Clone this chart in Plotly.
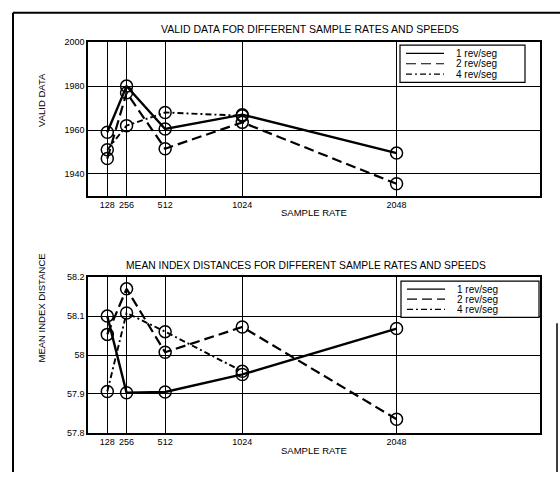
import plotly.graph_objects as go

# ---- data ----
sample_rates = [128, 256, 512, 1024, 2048]
tick_labels = ["128", "256", "512", "1024", "2048"]
series_names = ["1 rev/seg", "2 rev/seg", "4 rev/seg"]

valid_1rev = [1959, 1980, 1960.5, 1967, 1949.5]
valid_2rev = [1947, 1977, 1951.5, 1963.5, 1935.5]
valid_4rev = [1951, 1962, 1968, 1966.5]

mid_1rev = [58.10, 57.903, 57.905, 57.95, 58.068]
mid_2rev = [58.053, 58.17, 58.007, 58.072, 57.835]
mid_4rev = [57.906, 58.108, 58.06, 57.958]

valid_yticks = [1940, 1960, 1980, 2000]
mid_yticks = [57.8, 57.9, 58.0, 58.1, 58.2]
mid_yticklabels = ["57.8", "57.9", "58", "58.1", "58.2"]

W, H = 560, 477
FONT = "Liberation Sans, Arial, sans-serif"
dashes = ["solid", "10px,5px", "6px,3px,2px,3px"]
widths = [2.4, 2.2, 1.9]

def px_x(p):
    return p / W

def px_y(p):
    return 1 - p / H

fig = go.Figure()

top_sets = [valid_1rev, valid_2rev, valid_4rev]
bot_sets = [mid_1rev, mid_2rev, mid_4rev]

for i, ys in enumerate(top_sets):
    fig.add_trace(go.Scatter(
        x=sample_rates[:len(ys)], y=ys, mode="lines+markers",
        name=series_names[i], showlegend=False,
        line=dict(color="black", width=widths[i], dash=dashes[i]),
        marker=dict(symbol="circle-open", size=12, color="black", line=dict(width=1.5)),
        xaxis="x", yaxis="y"))
for i, ys in enumerate(bot_sets):
    fig.add_trace(go.Scatter(
        x=sample_rates[:len(ys)], y=ys, mode="lines+markers",
        name=series_names[i], showlegend=False,
        line=dict(color="black", width=widths[i], dash=dashes[i]),
        marker=dict(symbol="circle-open", size=12, color="black", line=dict(width=1.5)),
        xaxis="x2", yaxis="y2"))

axis_common = dict(showline=True, linecolor="black", linewidth=1.5, mirror=True,
                   showgrid=True, gridcolor="black", gridwidth=1.2, zeroline=False,
                   ticks="", tickfont=dict(family=FONT, size=9, color="black"))

xdom = [px_x(88), px_x(540)]
fig.update_layout(
    width=W, height=H, margin=dict(l=0, r=0, t=0, b=0),
    paper_bgcolor="white", plot_bgcolor="white", showlegend=False,
    font=dict(family=FONT, color="black"),
    xaxis=dict(domain=xdom, range=[0, 3000], tickvals=sample_rates, ticktext=tick_labels,
               anchor="y", **axis_common),
    yaxis=dict(domain=[px_y(195), px_y(38)], range=[1930, 2000], tickvals=valid_yticks,
               anchor="x", **axis_common),
    xaxis2=dict(domain=xdom, range=[0, 3000], tickvals=sample_rates, ticktext=tick_labels,
                anchor="y2", **axis_common),
    yaxis2=dict(domain=[px_y(437), px_y(278)], range=[57.8, 58.2], tickvals=mid_yticks,
                ticktext=mid_yticklabels, anchor="x2", **axis_common),
)

ann = []
def text(x, y, s, size=9, angle=0, xanchor="center"):
    ann.append(dict(x=px_x(x), y=px_y(y), xref="paper", yref="paper", text=s,
                    showarrow=False, textangle=angle, xanchor=xanchor, yanchor="middle",
                    font=dict(family=FONT, size=size, color="black")))

text(310, 25, "VALID DATA FOR DIFFERENT SAMPLE RATES AND SPEEDS", 10.5)
text(314, 212, "SAMPLE RATE", 9.5)
text(42, 97, "VALID DATA", 9.5, -90)
text(306, 266, "MEAN INDEX DISTANCES FOR DIFFERENT SAMPLE RATES AND SPEEDS", 10.3)
text(314, 455, "SAMPLE RATE", 9.5)
text(42, 310, "MEAN INDEX DISTANCE", 9.5, -90)

shapes = []
# outer scan frame
shapes.append(dict(type="line", xref="paper", yref="paper", x0=px_x(13), x1=px_x(13),
                   y0=px_y(8), y1=0, line=dict(color="black", width=2)))
shapes.append(dict(type="line", xref="paper", yref="paper", x0=px_x(13), x1=1,
                   y0=px_y(8), y1=px_y(8), line=dict(color="black", width=2)))
shapes.append(dict(type="line", xref="paper", yref="paper", x0=px_x(557), x1=px_x(557),
                   y0=px_y(325), y1=0, line=dict(color="black", width=1.5)))

# legends (boxes with line samples and labels)
def legend(x0, y0, x1, y1):
    shapes.append(dict(type="rect", xref="paper", yref="paper", x0=px_x(x0), x1=px_x(x1),
                       y0=px_y(y1), y1=px_y(y0), fillcolor="white",
                       line=dict(color="black", width=1.2), layer="above"))
    rowh = (y1 - y0 - 6) / 3
    for i, nm in enumerate(series_names):
        yy = y0 + 3 + rowh * (i + 0.5)
        shapes.append(dict(type="line", xref="paper", yref="paper",
                           x0=px_x(x0 + 6), x1=px_x(x0 + 44), y0=px_y(yy), y1=px_y(yy),
                           line=dict(color="black", width=1.2, dash=dashes[i]), layer="above"))
        text(x0 + 54, yy, nm, 10, 0, "left")

legend(400, 41, 525, 79)
legend(401, 282, 539, 319)

fig.update_layout(annotations=ann, shapes=shapes)
fig.write_html("out.html", config={"displayModeBar": False},
               post_script="document.body.style.margin='0';")
